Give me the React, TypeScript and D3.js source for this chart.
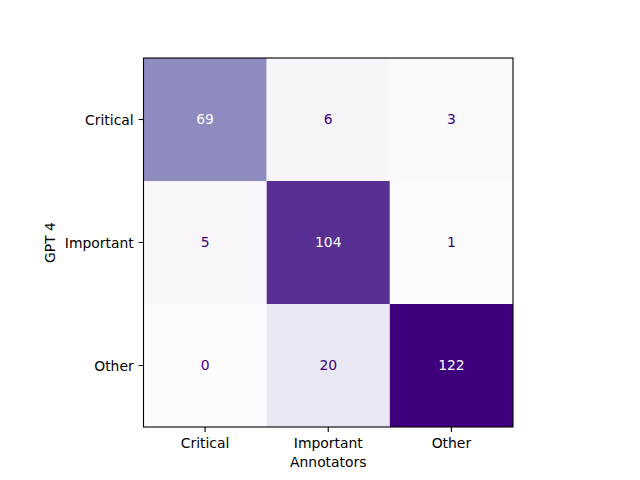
import React from "react";
import * as d3 from "d3";

const labels = ["Critical", "Important", "Other"];
const matrix = [
  [69, 6, 3],
  [5, 104, 1],
  [0, 20, 122],
];
const purples = ["#fcfbfd", "#efedf5", "#dadaeb", "#bcbddc", "#9e9ac8", "#807dba", "#6a51a3", "#54278f", "#3f007d"];
const xTitle = "Annotators";
const yTitle = "GPT 4";

export default function App() {
  const W = 640, H = 480;
  const left = 143.5, right = 513, top = 58, bottom = 427;
  const flat = matrix.flat();
  const vmin = d3.min(flat)!, vmax = d3.max(flat)!;
  const color = d3.scaleLinear<string>()
    .domain(purples.map((_, i) => vmin + (vmax - vmin) * i / (purples.length - 1)))
    .range(purples)
    .interpolate(d3.interpolateRgb);
  const x = d3.scaleBand().domain(labels).range([left, right]);
  const y = d3.scaleBand().domain(labels).range([top, bottom]);
  const thresh = (vmin + vmax) / 2;
  const font = "DejaVu Sans, sans-serif";
  const fs = 13.9;
  return (
    <svg width={W} height={H} style={{ position: "absolute", left: 0, top: 0, background: "#fff" }} fontFamily={font}>
      {matrix.map((row, i) =>
        row.map((v, j) => (
          <g key={`${i}-${j}`}>
            <rect x={x(labels[j])} y={y(labels[i])} width={x.bandwidth()} height={y.bandwidth()} fill={color(v)} />
            <text
              x={x(labels[j])! + x.bandwidth() / 2}
              y={y(labels[i])! + y.bandwidth() / 2 - 0.8}
              textAnchor="middle"
              dominantBaseline="central"
              fontSize={fs}
              fill={v < thresh ? color(vmax) : color(vmin)}
            >
              {v}
            </text>
          </g>
        ))
      )}
      <rect x={left} y={top} width={right - left} height={bottom - top} fill="none" stroke="#000" strokeWidth={1.1} />
      {labels.map((l) => (
        <g key={"x" + l}>
          <line x1={x(l)! + x.bandwidth() / 2} x2={x(l)! + x.bandwidth() / 2} y1={bottom} y2={bottom + 4.9} stroke="#000" strokeWidth={1.1} />
          <text x={x(l)! + x.bandwidth() / 2} y={bottom + 21} textAnchor="middle" fontSize={fs} fill="#000">{l}</text>
        </g>
      ))}
      {labels.map((l) => (
        <g key={"y" + l}>
          <line x1={left - 4.9} x2={left} y1={y(l)! + y.bandwidth() / 2} y2={y(l)! + y.bandwidth() / 2} stroke="#000" strokeWidth={1.1} />
          <text x={left - 9.8} y={y(l)! + y.bandwidth() / 2} textAnchor="end" dominantBaseline="central" fontSize={fs} fill="#000">{l}</text>
        </g>
      ))}
      <text x={(left + right) / 2} y={467} textAnchor="middle" fontSize={fs} fill="#000">{xTitle}</text>
      <text transform={`translate(55,${(top + bottom) / 2}) rotate(-90)`} textAnchor="middle" fontSize={fs} fill="#000">{yTitle}</text>
    </svg>
  );
}
